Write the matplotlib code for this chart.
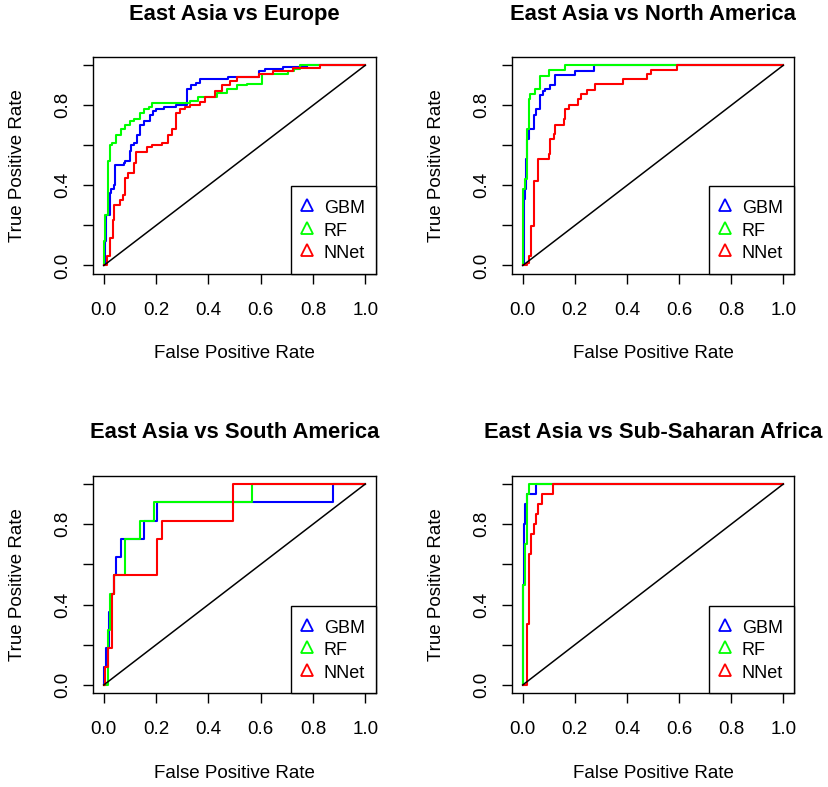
import matplotlib
matplotlib.use("Agg")
import matplotlib.pyplot as plt
from matplotlib.lines import Line2D

plt.rcParams['font.family'] = ['Liberation Sans', 'DejaVu Sans']

titles = ["East Asia vs Europe", "East Asia vs North America",
          "East Asia vs South America", "East Asia vs Sub-Saharan Africa"]
models = ["GBM", "RF", "NNet"]
colors = ["#0000FF", "#00FF00", "#FF0000"]
x_ticks = [0.0, 0.2, 0.4, 0.6, 0.8, 1.0]
x_ticklabels = ["0.0", "0.2", "0.4", "0.6", "0.8", "1.0"]
y_ticks = [0.0, 0.2, 0.4, 0.6, 0.8, 1.0]
y_ticklabels = ["0.0", "", "0.4", "", "0.8", ""]

# Panel 1: Europe
eu_gbm_fpr = [0, 0.006, 0.010, 0.023, 0.028, 0.038, 0.042, 0.076, 0.083, 0.099, 0.104, 0.115, 0.127, 0.137, 0.153, 0.178, 0.188, 0.201, 0.229, 0.277, 0.318, 0.333, 0.354, 0.369, 0.477, 0.592, 0.617, 0.687, 0.776, 1.0]
eu_gbm_tpr = [0, 0.12, 0.25, 0.36, 0.38, 0.40, 0.50, 0.51, 0.52, 0.57, 0.60, 0.61, 0.65, 0.70, 0.72, 0.75, 0.77, 0.78, 0.79, 0.80, 0.88, 0.90, 0.91, 0.93, 0.94, 0.97, 0.98, 0.99, 1.0, 1.0]
eu_rf_fpr = [0, 0.0, 0.006, 0.015, 0.025, 0.032, 0.048, 0.066, 0.083, 0.099, 0.117, 0.137, 0.155, 0.172, 0.184, 0.331, 0.359, 0.433, 0.471, 0.509, 0.547, 0.604, 0.706, 0.728, 0.75, 1.0]
eu_rf_tpr = [0, 0.12, 0.25, 0.52, 0.60, 0.61, 0.65, 0.68, 0.70, 0.72, 0.73, 0.76, 0.78, 0.79, 0.81, 0.82, 0.84, 0.86, 0.88, 0.90, 0.905, 0.955, 0.97, 0.98, 1.0, 1.0]
eu_nnet_fpr = [0, 0.013, 0.025, 0.036, 0.041, 0.061, 0.074, 0.083, 0.092, 0.115, 0.125, 0.165, 0.184, 0.223, 0.244, 0.261, 0.277, 0.293, 0.312, 0.331, 0.369, 0.388, 0.426, 0.452, 0.483, 0.509, 0.592, 0.649, 0.725, 0.827, 1.0]
eu_nnet_tpr = [0, 0.045, 0.137, 0.229, 0.304, 0.329, 0.354, 0.437, 0.462, 0.513, 0.568, 0.59, 0.60, 0.613, 0.654, 0.68, 0.763, 0.78, 0.79, 0.80, 0.815, 0.84, 0.87, 0.90, 0.92, 0.94, 0.955, 0.97, 0.985, 1.0, 1.0]

# Panel 2: North America
na_gbm_fpr = [0, 0.004, 0.008, 0.013, 0.018, 0.026, 0.042, 0.051, 0.068, 0.077, 0.087, 0.106, 0.122, 0.2015, 0.272, 1.0]
na_gbm_tpr = [0, 0.33, 0.38, 0.53, 0.63, 0.68, 0.75, 0.78, 0.85, 0.87, 0.88, 0.90, 0.95, 0.97, 1.0, 1.0]
na_rf_fpr = [0, 0.0, 0.010, 0.017, 0.023, 0.029, 0.046, 0.065, 0.099, 0.163, 1.0]
na_rf_tpr = [0, 0.38, 0.43, 0.68, 0.83, 0.855, 0.88, 0.945, 0.975, 1.0, 1.0]
na_nnet_fpr = [0, 0.017, 0.026, 0.033, 0.042, 0.059, 0.099, 0.106, 0.119, 0.125, 0.157, 0.163, 0.176, 0.212, 0.224, 0.246, 0.278, 0.386, 0.476, 0.492, 0.591, 1.0]
na_nnet_tpr = [0, 0.01, 0.045, 0.195, 0.42, 0.53, 0.555, 0.63, 0.655, 0.70, 0.73, 0.78, 0.80, 0.83, 0.855, 0.875, 0.905, 0.93, 0.955, 0.975, 1.0, 1.0]

# Panel 3: South America
sa_gbm_fpr = [0, 0.0, 0.010, 0.019, 0.028, 0.041, 0.048, 0.066, 0.155, 0.204, 0.875, 1.0]
sa_gbm_tpr = [0, 0.091, 0.182, 0.364, 0.455, 0.545, 0.636, 0.727, 0.818, 0.909, 1.0, 1.0]
sa_rf_fpr = [0, 0.015, 0.025, 0.041, 0.083, 0.137, 0.192, 0.566, 1.0]
sa_rf_tpr = [0, 0.273, 0.455, 0.545, 0.727, 0.818, 0.909, 1.0, 1.0]
sa_nnet_fpr = [0, 0.006, 0.015, 0.032, 0.041, 0.204, 0.223, 0.494, 1.0]
sa_nnet_tpr = [0, 0.091, 0.182, 0.455, 0.545, 0.727, 0.818, 1.0, 1.0]

# Panel 4: Sub-Saharan Africa
ssa_gbm_fpr = [0, 0.0, 0.003, 0.008, 0.017, 0.051, 1.0]
ssa_gbm_tpr = [0, 0.5, 0.8, 0.9, 0.95, 1.0, 1.0]
ssa_rf_fpr = [0, 0.0, 0.010, 0.017, 0.026, 1.0]
ssa_rf_tpr = [0, 0.5, 0.7, 0.95, 1.0, 1.0]
ssa_nnet_fpr = [0, 0.017, 0.026, 0.033, 0.042, 0.051, 0.059, 0.074, 0.115, 1.0]
ssa_nnet_tpr = [0, 0.305, 0.65, 0.75, 0.8, 0.85, 0.9, 0.95, 1.0, 1.0]

panels = [
    [(eu_gbm_fpr, eu_gbm_tpr), (eu_rf_fpr, eu_rf_tpr), (eu_nnet_fpr, eu_nnet_tpr)],
    [(na_gbm_fpr, na_gbm_tpr), (na_rf_fpr, na_rf_tpr), (na_nnet_fpr, na_nnet_tpr)],
    [(sa_gbm_fpr, sa_gbm_tpr), (sa_rf_fpr, sa_rf_tpr), (sa_nnet_fpr, sa_nnet_tpr)],
    [(ssa_gbm_fpr, ssa_gbm_tpr), (ssa_rf_fpr, ssa_rf_tpr), (ssa_nnet_fpr, ssa_nnet_tpr)],
]

W, H = 829, 787
fig = plt.figure(figsize=(W / 100, H / 100), dpi=100)

# axes boxes in pixels: left, top, right, bottom
boxes = [(93.3, 57.3, 375.7, 273.5), (512.3, 57.3, 793.7, 273.5),
         (93.3, 476.0, 375.7, 693.0), (512.3, 476.0, 793.7, 693.0)]

FS = 13.5
for i, (box, title, curves) in enumerate(zip(boxes, titles, panels)):
    l, t, r, b = box
    ax = fig.add_axes([l / W, 1 - b / H, (r - l) / W, (b - t) / H])
    ax.set_xlim(-0.04, 1.04)
    ax.set_ylim(-0.04, 1.04)
    for (fpr, tpr), c in zip(curves, colors):
        ax.step(fpr, tpr, where='post', color=c, lw=1.5)
    ax.plot([0, 1], [0, 1], color='black', lw=1.1)
    ax.set_xticks(x_ticks)
    ax.set_xticklabels(x_ticklabels)
    ax.set_yticks(y_ticks)
    ax.set_yticklabels(y_ticklabels, rotation=90, va='center')
    ax.tick_params(axis='both', direction='out', length=7, width=1.0,
                   labelsize=FS, color='black')
    ax.tick_params(axis='x', pad=13.5)
    ax.tick_params(axis='y', pad=9)
    for s in ax.spines.values():
        s.set_linewidth(1.0)
    hp = b - t
    wp = r - l
    ax.set_xlabel("False Positive Rate", fontsize=FS, va='center')
    ax.xaxis.set_label_coords(0.5, -80.0 / hp)
    ax.set_ylabel("True Positive Rate", fontsize=FS, va='center')
    ax.yaxis.set_label_coords(-76.0 / wp, 0.5)
    ax.text(0.5, 1 + 43.0 / hp, title, transform=ax.transAxes, ha='center',
            va='center', fontsize=15.8, fontweight='bold')
    handles = [Line2D([], [], linestyle='none', marker='^', markersize=9,
                      markerfacecolor='none', markeredgecolor=c, markeredgewidth=1.3)
               for c in colors]
    leg = ax.legend(handles, models, loc='lower right', borderaxespad=0,
                    fancybox=False, edgecolor='black', framealpha=1,
                    fontsize=13, handlelength=0.6, handleheight=1.39,
                    handletextpad=0.61, labelspacing=0.1, borderpad=0.59)
    leg.get_frame().set_linewidth(1.0)

fig.savefig("out.png", dpi=100)
